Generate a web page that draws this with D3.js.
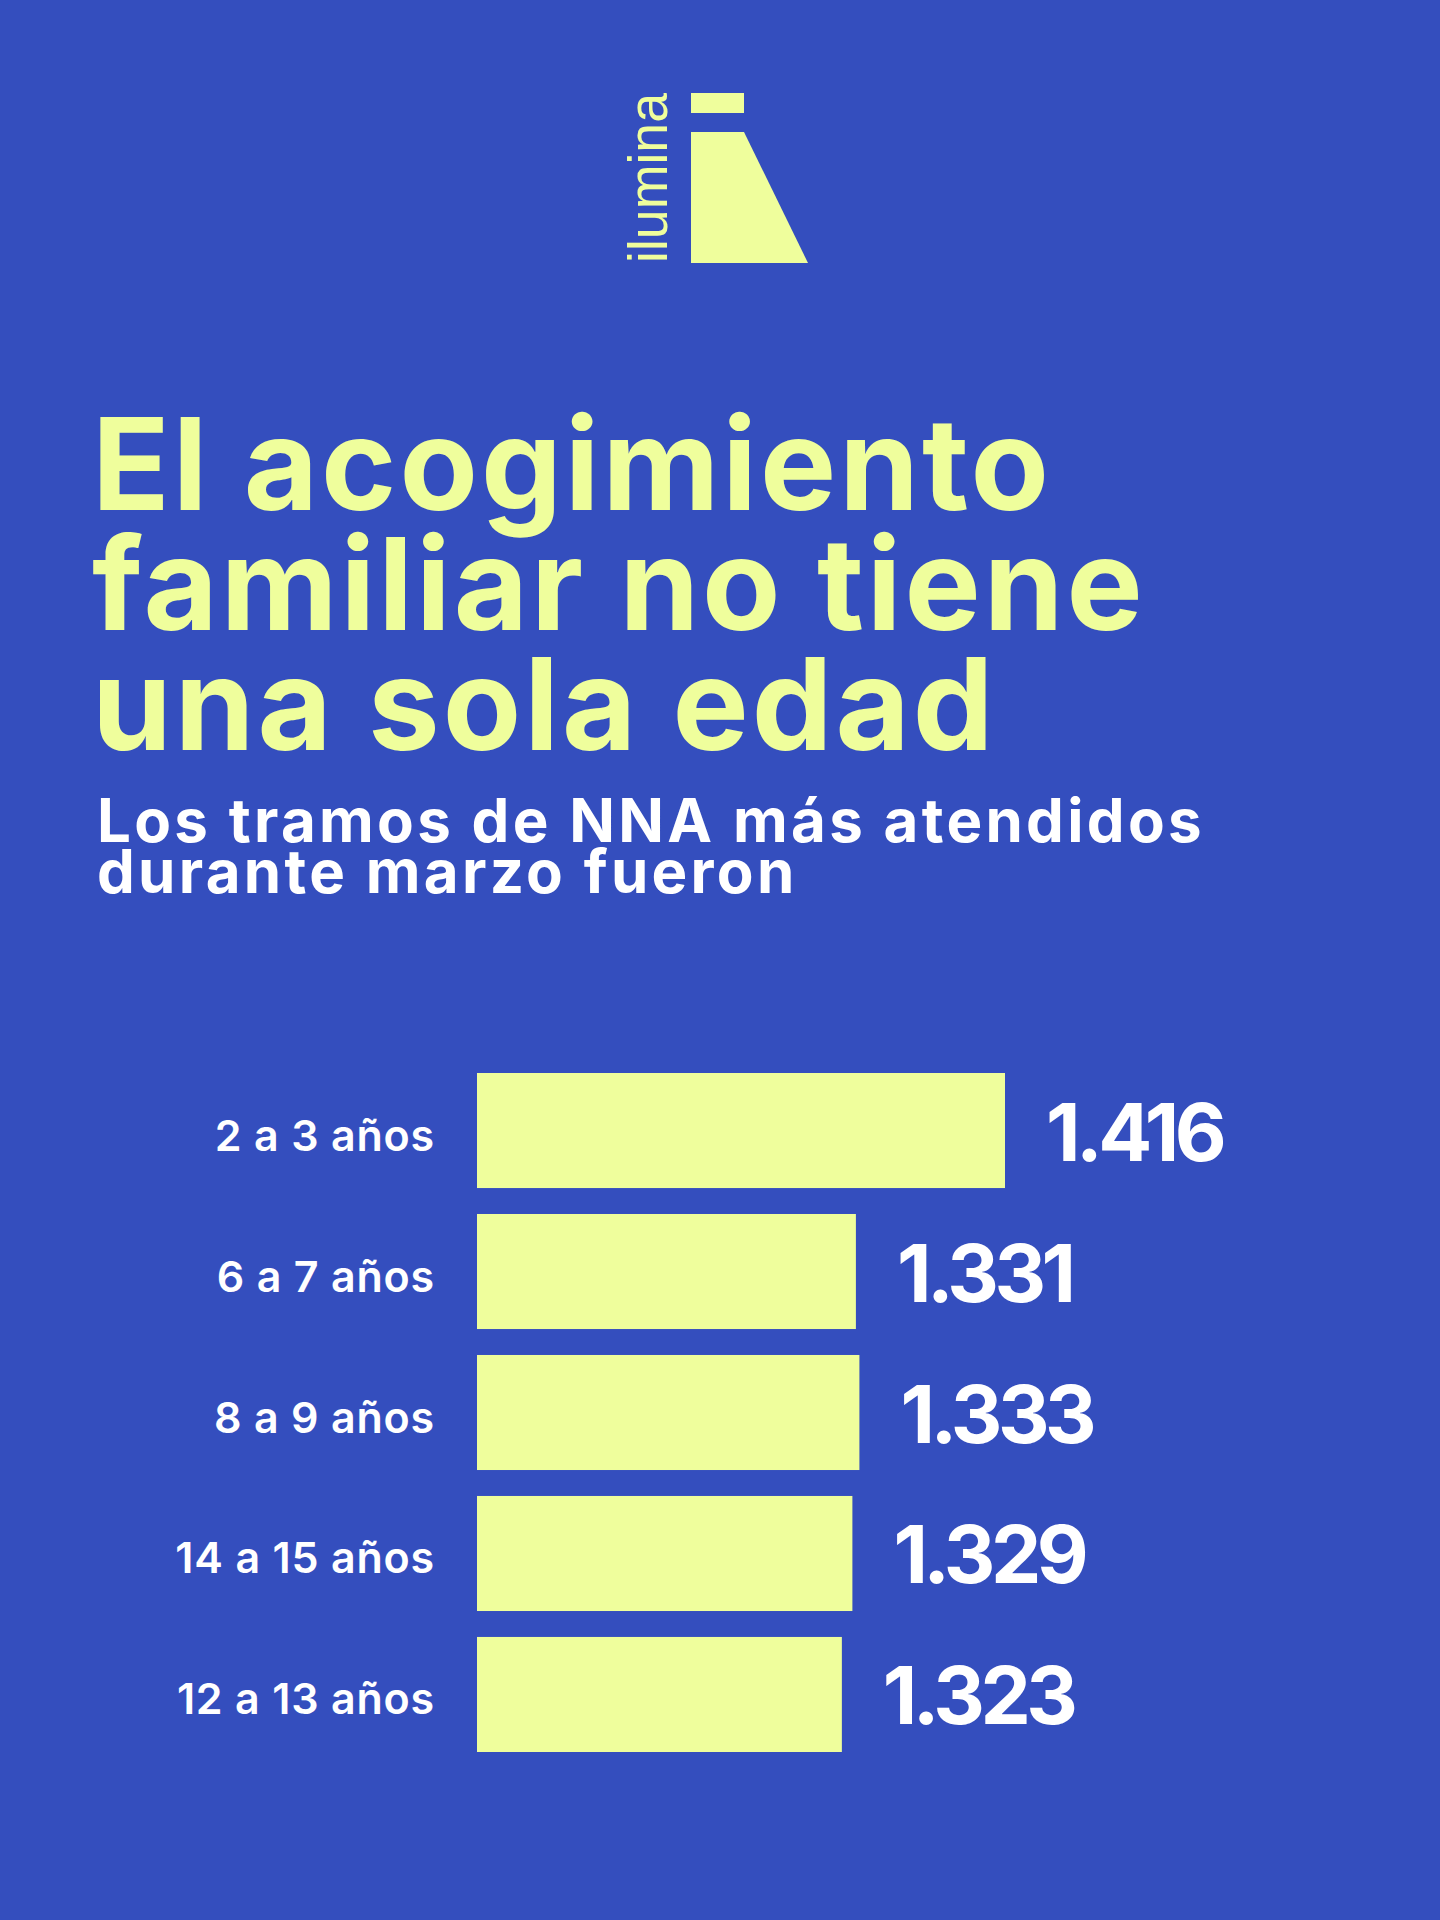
<!DOCTYPE html>
<html lang="es">
<head>
  <meta charset="utf-8">
  <title>El acogimiento familiar no tiene una sola edad</title>
  <script src="https://d3js.org/d3.v7.min.js"></script>
  <style>
    body { margin: 0; background: #344ebe; }
    svg { display: block; }
    .title { font-family: Inter, sans-serif; font-weight: 700; font-size: 128px; fill: #effe9c; letter-spacing: 3px; }
    .subtitle { font-family: Inter, sans-serif; font-weight: 700; font-size: 60px; fill: #ffffff; letter-spacing: 3.3px; }
    .label { font-family: Inter, sans-serif; font-weight: 600; font-size: 43px; fill: #ffffff; text-anchor: end; letter-spacing: 0.8px; }
    .value { font-family: Inter, sans-serif; font-weight: 700; font-size: 80px; fill: #ffffff; letter-spacing: -4.5px; }
    .logo-text { font-family: "Liberation Sans", sans-serif; font-size: 56px; fill: #effe9c; }
  </style>
</head>
<body>
  <div id="chart"></div>
  <script>
    var w = 1440;
    var h = 1920;

    // datos
    var categories = ['2 a 3 años', '6 a 7 años', '8 a 9 años', '14 a 15 años', '12 a 13 años'];
    var values = [1416, 1331, 1333, 1329, 1323];
    var titleLines = ['El acogimiento', 'familiar no tiene', 'una sola edad'];
    var subtitleLines = ['Los tramos de NNA más atendidos', 'durante marzo fueron'];

    var yellow = '#effe9c';
    var xStart = 1115; // las barras no parten de cero en el original

    var fmt = d3.formatLocale({ decimal: ',', thousands: '.', grouping: [3], currency: ['$', ''] }).format(',d');

    var svg = d3.select('#chart').append('svg')
      .attr('width', w)
      .attr('height', h);

    svg.append('rect')
      .attr('width', w)
      .attr('height', h)
      .attr('fill', '#344ebe');

    // logo
    var logo = svg.append('g');
    logo.append('text')
      .attr('class', 'logo-text')
      .attr('transform', 'translate(667,263) rotate(-90)')
      .attr('textLength', 170)
      .attr('lengthAdjust', 'spacingAndGlyphs')
      .text('ilumina');
    logo.append('rect')
      .attr('x', 691).attr('y', 93)
      .attr('width', 53).attr('height', 20)
      .attr('fill', yellow);
    logo.append('path')
      .attr('d', 'M691,132 L744,132 L808,263 L691,263 Z')
      .attr('fill', yellow);

    // titulo
    svg.selectAll('text.title')
      .data(titleLines)
      .enter().append('text')
      .attr('class', 'title')
      .attr('x', 92)
      .attr('y', function (d, i) { return 510 + i * 120; })
      .text(function (d) { return d; });

    svg.selectAll('text.subtitle')
      .data(subtitleLines)
      .enter().append('text')
      .attr('class', 'subtitle')
      .attr('x', 97)
      .attr('y', function (d, i) { return 842 + i * 51; })
      .text(function (d) { return d; });

    // escalas
    var x = d3.scaleLinear()
      .domain([xStart, d3.max(values)])
      .range([477, 1005]);

    var y = d3.scaleBand()
      .domain(categories)
      .range([1073, 1752])
      .paddingInner(0.184)
      .paddingOuter(0);

    var rows = categories.map(function (c, i) { return { cat: c, val: values[i] }; });

    svg.selectAll('rect.bar')
      .data(rows)
      .enter().append('rect')
      .attr('class', 'bar')
      .attr('x', x(xStart))
      .attr('y', function (d) { return y(d.cat); })
      .attr('width', function (d) { return x(d.val) - x(xStart); })
      .attr('height', y.bandwidth())
      .attr('fill', yellow);

    svg.selectAll('text.label')
      .data(rows)
      .enter().append('text')
      .attr('class', 'label')
      .attr('x', 435)
      .attr('y', function (d) { return y(d.cat) + y.bandwidth() / 2 + 20; })
      .text(function (d) { return d.cat; });

    svg.selectAll('text.value')
      .data(rows)
      .enter().append('text')
      .attr('class', 'value')
      .attr('x', function (d) { return x(d.val) + 41; })
      .attr('y', function (d) { return y(d.cat) + y.bandwidth() / 2 + 30; })
      .text(function (d) { return fmt(d.val); });
  </script>
</body>
</html>
